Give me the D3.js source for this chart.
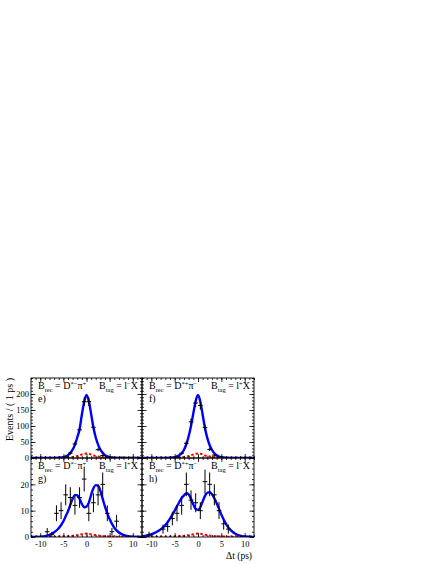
<!DOCTYPE html>
<html lang="en">
<head>
<meta charset="UTF-8">
<title>Delta t distributions, lepton tags</title>
<script src="https://d3js.org/d3.v7.min.js"></script>
<style>
  body { margin: 0; background: #fff; }
  text { font-family: "Liberation Serif", "Times New Roman", serif; fill: #000; }
</style>
</head>
<body>
<div id="chart"></div>
<script>
// sampling points of the fitted curves (ps)
const curveT = [-12,-11,-10,-9,-8,-7,-6,-5,-4.5,-4,-3.5,-3,-2.5,-2,-1.5,-1,-0.5,0,0.5,1,1.5,2,2.5,3,3.5,4,4.5,5,6,7,8,9,10,11,12];

// total fit (blue)
const fitE = [0,0,0,0,0.1,0.3,0.8,2.5,5,9,16,26,42,64,90,136,176,197,178,138,95,64,42,26,16,9,5,2.5,0.8,0.3,0.1,0,0,0,0];
const fitF = [0,0,0,0,0.1,0.3,0.8,2.5,5,9,15,26,43,68,100,140,178,197,176,135,93,62,40,25,15,8.5,4.5,2.3,0.8,0.3,0.1,0,0,0,0];
const fitG = [0,0,0.1,0.3,0.8,1.8,3.3,6,7.9,9.8,12.2,14.5,16,15.8,14.5,12.5,11.3,11.5,13,16,18.5,19.7,19.5,17.5,14.5,11.5,9,6.8,3.5,1.7,0.8,0.3,0.1,0,0];
const fitH = [0.3,0.5,1,1.8,2.9,4.5,7,10,11.7,13.3,14.8,15.8,16.6,16.2,14.5,12.3,10.6,10.3,11.3,13.5,15.6,16.8,17,16.2,14.7,12.8,10.7,8.5,5,2.6,1.2,0.5,0.2,0.1,0];

// background component (red dashed)
const bkgTop = [0.8,0.8,0.9,0.9,1,1.1,1.3,1.6,1.8,2.2,2.8,3.5,4.6,6,8,11,13,14,13,11,8,6,4.6,3.5,2.8,2.2,1.8,1.5,1.2,1,0.9,0.9,0.8,0.8,0.8];
const bkgBot = [0.1,0.1,0.1,0.1,0.1,0.1,0.15,0.2,0.25,0.3,0.35,0.45,0.55,0.7,0.85,1.05,1.2,1.3,1.2,1.05,0.85,0.7,0.55,0.45,0.35,0.3,0.25,0.2,0.15,0.1,0.1,0.1,0.1,0.1,0.1];

// data points: bin centres, counts, errors
const ptsE_t = [-7.5,-4.5,-3.5,-2.5,-1.5,-0.5,0.5,1.5,2.5,3.5,4.5,7.5,9.5];
const ptsE_n = [1,4,15,44,88,176,176,96,26,8,3,2,1];
const ptsE_e = [1,2,3.9,6.6,9.4,13.3,13.3,9.8,5.1,2.8,1.7,1.4,1];

const ptsF_t = [-4.5,-3.5,-2.5,-1.5,-0.5,0.5,1.5,2.5,3.5,4.5,9.5];
const ptsF_n = [3,15,46,113,172,164,95,27,9,3,1];
const ptsF_e = [1.7,3.9,6.8,10.6,13.1,12.8,9.7,5.2,3,1.7,1];

const ptsG_t = [-8.5,-7.5,-6.5,-5.5,-4.5,-3.5,-2.5,-1.5,-0.5,0.5,1.5,2.5,3.5,4.5,5.5,6.5];
const ptsG_n = [2,1,9,10,16,15,12,15,22,9,13,16,20,9,2,6];
const ptsG_e = [1.4,1,3,3.2,4,3.9,3.5,3.9,4.7,3,3.6,4,4.5,3,1.4,2.4];

const ptsH_t = [-10.5,-7.5,-6.5,-5.5,-4.5,-3.5,-2.5,-1.5,-0.5,0.5,1.5,2.5,3.5,4.5,5.5,6.5];
const ptsH_n = [1,3,4,7,9,12,20,14,13,10,21,20,16,10,5,3];
const ptsH_e = [1,1.7,2,2.6,3,3.5,4.5,3.7,3.6,3.2,4.6,4.5,4,3.2,2.2,1.7];

// axes
const xMajor = [-10,-5,0,5,10];
const yMajorTop = [0,50,100,150,200];
const yMajorBot = [0,10,20];

const panels = [
  { id: "e)", col: 0, row: 0, rec: "*\u2212", recPi: "+", tag: "\u2212", fit: fitE, bkg: bkgTop, t: ptsE_t, n: ptsE_n, e: ptsE_e },
  { id: "f)", col: 1, row: 0, rec: "*+", recPi: "\u2212", tag: "+", fit: fitF, bkg: bkgTop, t: ptsF_t, n: ptsF_n, e: ptsF_e },
  { id: "g)", col: 0, row: 1, rec: "*\u2212", recPi: "+", tag: "+", fit: fitG, bkg: bkgBot, t: ptsG_t, n: ptsG_n, e: ptsG_e },
  { id: "h)", col: 1, row: 1, rec: "*+", recPi: "\u2212", tag: "\u2212", fit: fitH, bkg: bkgBot, t: ptsH_t, n: ptsH_n, e: ptsH_e }
];

const W = 436, H = 564;
const colX = [[31, 142], [142, 254]];
const rowY = [[378, 458], [458, 537]];

const svg = d3.select("#chart").append("svg")
  .attr("width", W).attr("height", H);

const xScales = colX.map(r => d3.scaleLinear().domain([-12, 12]).range(r));
const yScales = [
  d3.scaleLinear().domain([0, 250]).range([rowY[0][1], rowY[0][0]]),
  d3.scaleLinear().domain([0, 30]).range([rowY[1][1], rowY[1][0]])
];
const yMinor = [d3.range(0, 251, 10), d3.range(0, 31, 2)];
const xMinor = d3.range(-12, 13, 1);

function tickAxis(g, axis) {
  g.call(axis);
  g.select(".domain").remove();
  g.selectAll("line").attr("stroke", "#000").attr("stroke-width", 0.8);
}

// label with sub/superscripts
function rich(g, x, y, parts, anchor) {
  const txt = g.append("text").attr("x", x).attr("y", y)
    .attr("text-anchor", anchor).attr("font-size", 10);
  let cur = 0;
  parts.forEach(p => {
    const off = p.sub ? 2.5 : p.sup ? -3.5 : 0;
    txt.append("tspan").attr("dy", off - cur)
      .attr("font-size", p.sub || p.sup ? 6.5 : 10).text(p.t);
    cur = off;
  });
}

panels.forEach((p, i) => {
  const x = xScales[p.col], y = yScales[p.row];
  const [x0, x1] = colX[p.col], [y0, y1] = rowY[p.row];
  const g = svg.append("g");

  svg.append("clipPath").attr("id", "clip" + i)
    .append("rect").attr("x", x0).attr("y", y0).attr("width", x1 - x0).attr("height", y1 - y0);

  const plot = g.append("g").attr("clip-path", `url(#clip${i})`);

  const line = d3.line().x(d => x(d[0])).y(d => y(d[1])).curve(d3.curveMonotoneX);

  plot.append("path")
    .attr("d", line(curveT.map((t, k) => [t, p.bkg[k]])))
    .attr("fill", "none").attr("stroke", "#ff0000")
    .attr("stroke-width", 2).attr("stroke-dasharray", "2.5,2");

  plot.append("path")
    .attr("d", line(curveT.map((t, k) => [t, p.fit[k]])))
    .attr("fill", "none").attr("stroke", "#0000ff").attr("stroke-width", 2.4);

  p.t.forEach((t, k) => {
    const v = p.n[k], err = p.e[k];
    plot.append("line")
      .attr("x1", x(t - 0.5)).attr("x2", x(t + 0.5))
      .attr("y1", y(v)).attr("y2", y(v))
      .attr("stroke", "#000").attr("stroke-width", 1);
    plot.append("line")
      .attr("x1", x(t)).attr("x2", x(t))
      .attr("y1", y(Math.max(0, v - err))).attr("y2", y(v + err))
      .attr("stroke", "#000").attr("stroke-width", 1);
  });

  // ticks inside the frame on all four sides
  tickAxis(g.append("g").attr("transform", `translate(${x0},0)`),
    d3.axisRight(y).tickValues(yMinor[p.row]).tickSize(2).tickFormat(""));
  tickAxis(g.append("g").attr("transform", `translate(${x0},0)`),
    d3.axisRight(y).tickValues(p.row ? yMajorBot : yMajorTop).tickSize(4.5).tickFormat(""));
  tickAxis(g.append("g").attr("transform", `translate(${x1},0)`),
    d3.axisLeft(y).tickValues(yMinor[p.row]).tickSize(2).tickFormat(""));
  tickAxis(g.append("g").attr("transform", `translate(${x1},0)`),
    d3.axisLeft(y).tickValues(p.row ? yMajorBot : yMajorTop).tickSize(4.5).tickFormat(""));
  tickAxis(g.append("g").attr("transform", `translate(0,${y1})`),
    d3.axisTop(x).tickValues(xMinor).tickSize(2).tickFormat(""));
  tickAxis(g.append("g").attr("transform", `translate(0,${y1})`),
    d3.axisTop(x).tickValues(xMajor).tickSize(4).tickFormat(""));
  tickAxis(g.append("g").attr("transform", `translate(0,${y0})`),
    d3.axisBottom(x).tickValues(xMinor).tickSize(2).tickFormat(""));
  tickAxis(g.append("g").attr("transform", `translate(0,${y0})`),
    d3.axisBottom(x).tickValues(xMajor).tickSize(4).tickFormat(""));

  // tick labels on the outer edges
  if (p.col === 0) {
    const ax = g.append("g").attr("transform", `translate(${x0},0)`)
      .call(d3.axisLeft(y).tickValues(p.row ? yMajorBot : yMajorTop).tickSize(0).tickPadding(2));
    ax.select(".domain").remove();
    ax.selectAll("text").attr("font-family", null).attr("font-size", 8.5);
  }
  if (p.row === 1) {
    const ax = g.append("g").attr("transform", `translate(0,${y1})`)
      .call(d3.axisBottom(x).tickValues(xMajor).tickSize(0).tickPadding(4)
        .tickFormat(d => d < 0 ? "-" + Math.abs(d) : d));
    ax.select(".domain").remove();
    ax.selectAll("text").attr("font-family", null).attr("font-size", 8.5);
  }

  g.append("rect").attr("x", x0).attr("y", y0)
    .attr("width", x1 - x0).attr("height", y1 - y0)
    .attr("fill", "none").attr("stroke", "#000").attr("stroke-width", 0.9);

  rich(g, x0 + 7, y0 + 11, [
    { t: "B" }, { t: "rec", sub: true }, { t: " = D" }, { t: p.rec, sup: true },
    { t: "\u03c0" }, { t: p.recPi, sup: true }
  ], "start");
  rich(g, x1 - 4, y0 + 11, [
    { t: "B" }, { t: "tag", sub: true }, { t: " = l" }, { t: p.tag, sup: true }, { t: "X" }
  ], "end");
  g.append("text").attr("x", x0 + 7).attr("y", y0 + 24)
    .attr("font-size", 10).text(p.id);
});

svg.append("text")
  .attr("transform", "translate(13,378) rotate(-90)")
  .attr("text-anchor", "end").attr("font-size", 10)
  .text("Events / ( 1 ps )");

svg.append("text")
  .attr("x", 252).attr("y", 559)
  .attr("text-anchor", "end").attr("font-size", 9.5)
  .text("\u0394t (ps)");
</script>
</body>
</html>
